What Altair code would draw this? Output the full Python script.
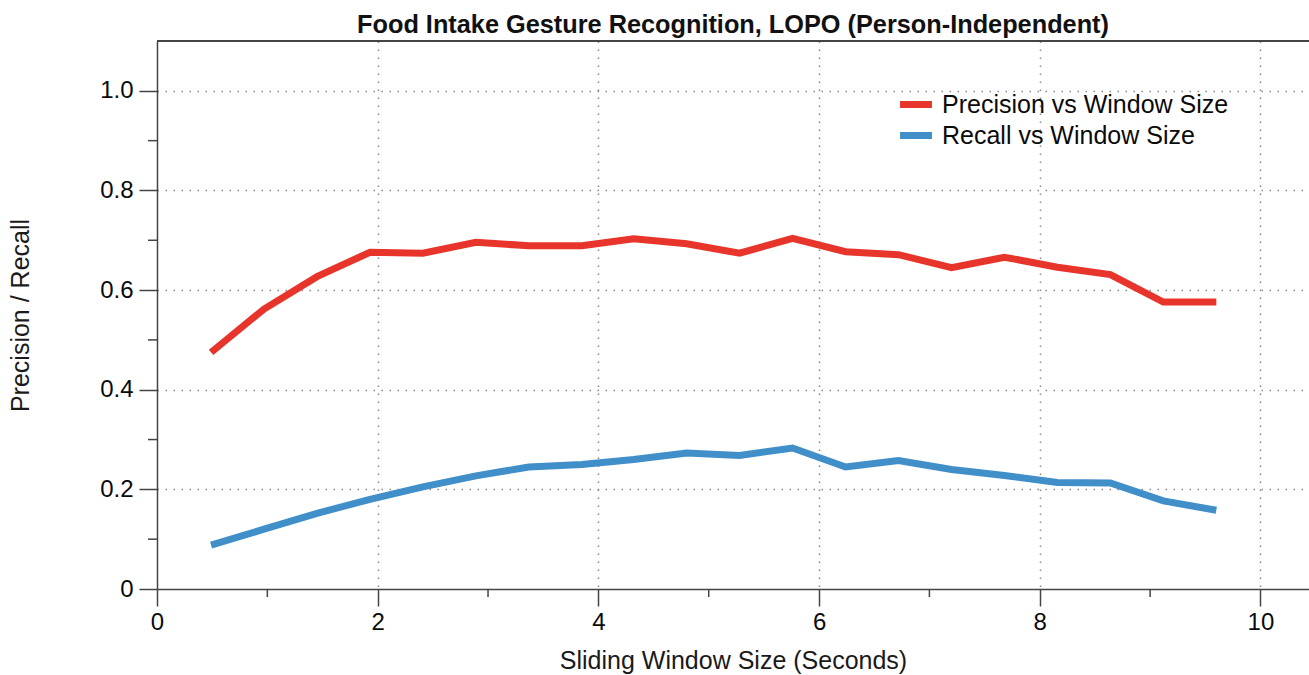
import altair as alt
import pandas as pd

# Sliding window sizes (seconds) evaluated
window_sec = [0.49, 0.97, 1.45, 1.93, 2.41, 2.89, 3.37, 3.85, 4.32, 4.80,
              5.28, 5.76, 6.24, 6.72, 7.20, 7.68, 8.16, 8.64, 9.12, 9.60]

# Leave-one-person-out results per window size
precision = [0.475, 0.562, 0.627, 0.676, 0.674, 0.696, 0.689, 0.689, 0.703, 0.693,
             0.674, 0.704, 0.677, 0.671, 0.645, 0.666, 0.646, 0.631, 0.576, 0.576]
recall = [0.088, 0.120, 0.152, 0.180, 0.205, 0.227, 0.245, 0.250, 0.260, 0.273,
          0.268, 0.283, 0.245, 0.258, 0.240, 0.228, 0.214, 0.213, 0.177, 0.158]

series_names = ["Precision vs Window Size", "Recall vs Window Size"]
series_colors = ["#E8352B", "#418FC9"]

x_major = [0, 2, 4, 6, 8, 10]
x_minor = [1, 3, 5, 7, 9]
y_major = [0.0, 0.2, 0.4, 0.6, 0.8, 1.0]
y_minor = [0.1, 0.3, 0.5, 0.7, 0.9]

rows = []
for name, vals in zip(series_names, [precision, recall]):
    for x, v in zip(window_sec, vals):
        rows.append({"window": x, "value": v, "series": name})
df = pd.DataFrame(rows)

W, H = 1152, 548
FONT = "Liberation Sans"
AXIS_COLOR = "#444444"
TEXT_COLOR = "#0a0a0a"
TICK_FS = 24
TITLE_FS = 25

x_scale = alt.Scale(domain=[0, 10.44], nice=False, zero=False)
y_scale = alt.Scale(domain=[0, 1.1], nice=False)

x_axis = alt.Axis(
    values=x_major,
    title="Sliding Window Size (Seconds)",
    tickSize=17,
    labelFlush=False,
    grid=True,
    gridOpacity={"condition": {"test": "datum.value > 0", "value": 1}, "value": 0},
    gridDash=[1.5, 6.5], gridColor="#888888", gridWidth=1.5,
    domainColor=AXIS_COLOR, domainWidth=1.5, tickColor=AXIS_COLOR, tickWidth=1.5,
    labelFont=FONT, labelFontSize=TICK_FS, labelColor=TEXT_COLOR, labelPadding=4,
    titleFont=FONT, titleFontSize=TITLE_FS, titleFontWeight="normal", titleColor="#1a1a1a",
    titleY=71, titleBaseline="middle",
)

y_axis = alt.Axis(
    values=y_major,
    title="Precision / Recall",
    labelExpr="datum.value == 0 ? '0' : format(datum.value, '.1f')",
    tickSize=18,
    labelFlush=False,
    grid=True,
    gridOpacity={"condition": {"test": "datum.value > 0", "value": 1}, "value": 0},
    gridDash=[1.5, 6.5], gridColor="#888888", gridWidth=1.5,
    domainColor=AXIS_COLOR, domainWidth=1.5, tickColor=AXIS_COLOR, tickWidth=1.5,
    labelFont=FONT, labelFontSize=TICK_FS, labelColor=TEXT_COLOR, labelPadding=6,
    titleFont=FONT, titleFontSize=TITLE_FS, titleFontWeight="normal", titleColor="#1a1a1a",
    titleX=-137, titleBaseline="middle",
)

lines = alt.Chart(df).mark_line(strokeWidth=7, strokeJoin="miter").encode(
    x=alt.X("window:Q", scale=x_scale, axis=x_axis),
    y=alt.Y("value:Q", scale=y_scale, axis=y_axis),
    color=alt.Color(
        "series:N",
        sort=series_names,
        scale=alt.Scale(domain=series_names, range=series_colors),
        legend=alt.Legend(
            title=None, orient="none", legendX=743.5, legendY=48,
            symbolType="M-1.33,0H1.33", symbolStrokeWidth=7, symbolSize=576,
            labelFont=FONT, labelFontSize=TITLE_FS, labelColor=TEXT_COLOR,
            labelLimit=500, labelOffset=10.5, rowPadding=1, padding=0,
        ),
    ),
)

# Minor tick marks between the labelled ticks (same axes, so nothing is merged away)
y_minor_ticks = alt.Chart(pd.DataFrame({"value": y_minor})).mark_rule(
    color=AXIS_COLOR, strokeWidth=1.5
).encode(y=alt.Y("value:Q", scale=y_scale, axis=y_axis), x=alt.value(-9), x2=alt.value(0))

x_minor_ticks = alt.Chart(pd.DataFrame({"window": x_minor})).mark_rule(
    color=AXIS_COLOR, strokeWidth=1.5
).encode(x=alt.X("window:Q", scale=x_scale, axis=x_axis), y=alt.value(H), y2=alt.value(H + 8))

# Frame line along the top of the plot area
top_border = alt.Chart(pd.DataFrame({"edge": [0]})).mark_rule(
    color=AXIS_COLOR, strokeWidth=2
).encode(x=alt.value(0), x2=alt.value(W), y=alt.value(0))

chart = alt.layer(top_border, lines, y_minor_ticks, x_minor_ticks).properties(
    width=W,
    height=H,
    title=alt.Title(
        "Food Intake Gesture Recognition, LOPO (Person-Independent)",
        font=FONT, fontSize=25.3, fontWeight="bold", color="#111111",
        anchor="middle", offset=2,
    ),
    padding={"left": 157, "top": 41, "right": 0, "bottom": 86},
    autosize="none",
).configure_view(stroke=None).configure(background="white")

chart.save("out.html", embed_options={"renderer": "svg", "actions": False})
